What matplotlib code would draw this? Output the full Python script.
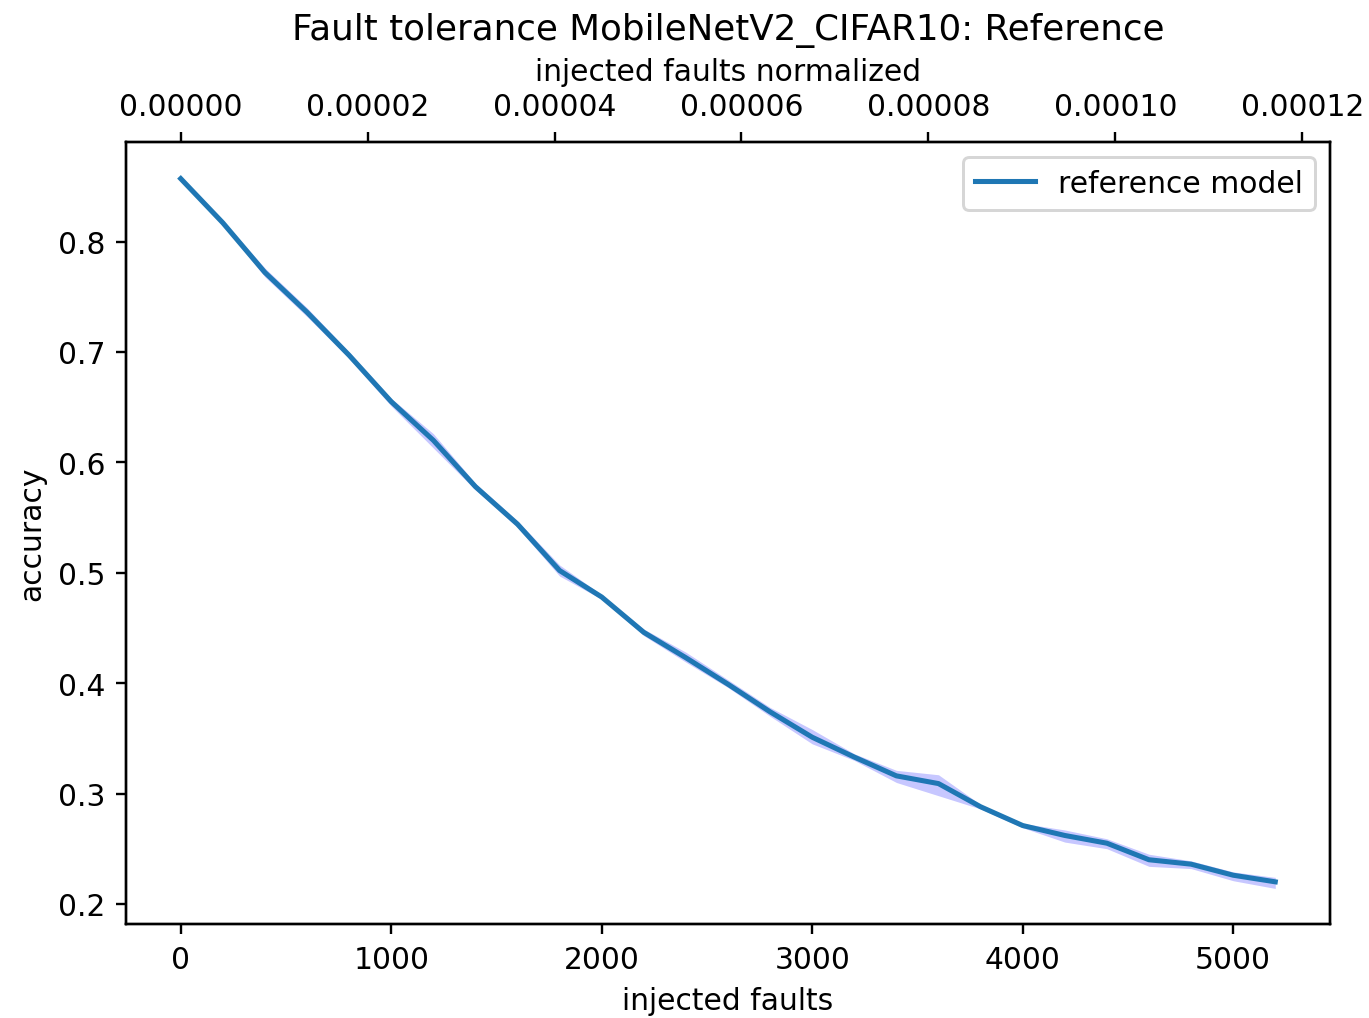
import numpy as np
import matplotlib
matplotlib.use("Agg")
import matplotlib.pyplot as plt

# injected faults per run and measured accuracy (mean with min/max band)
faults = [0, 200, 400, 600, 800, 1000, 1200, 1400, 1600, 1800, 2000, 2200, 2400,
          2600, 2800, 3000, 3200, 3400, 3600, 3800, 4000, 4200, 4400, 4600, 4800,
          5000, 5200]
acc_mean = [0.857, 0.817, 0.772, 0.736, 0.697, 0.655, 0.620, 0.578, 0.544, 0.502,
            0.478, 0.446, 0.423, 0.399, 0.374, 0.351, 0.333, 0.316, 0.309, 0.288,
            0.271, 0.262, 0.255, 0.240, 0.236, 0.226, 0.220]
acc_low = [0.856, 0.815, 0.768, 0.732, 0.694, 0.651, 0.613, 0.575, 0.541, 0.497,
           0.476, 0.443, 0.419, 0.396, 0.370, 0.345, 0.330, 0.310, 0.298, 0.286,
           0.269, 0.256, 0.250, 0.234, 0.232, 0.221, 0.214]
acc_high = [0.858, 0.819, 0.776, 0.740, 0.700, 0.658, 0.626, 0.581, 0.547, 0.507,
            0.480, 0.449, 0.428, 0.403, 0.378, 0.358, 0.336, 0.321, 0.317, 0.290,
            0.273, 0.267, 0.259, 0.245, 0.239, 0.229, 0.224]

total_bits = 44.4e6  # normalisation for the top axis

W, H, DPI = 1369, 1019, 214
fig = plt.figure(figsize=(W / DPI, H / DPI), dpi=DPI)
ax = fig.add_axes([126 / W, (H - 925) / H, (1330 - 126) / W, (925 - 143) / H])

ax.fill_between(faults, acc_low, acc_high, color="blue", alpha=0.22, linewidth=0)
ax.plot(faults, acc_mean, color="#1f77b4", linewidth=1.7, label="reference model")
ax.set_xlabel("injected faults")
ax.set_ylabel("accuracy")
ax.legend(loc="upper right")

ax2 = ax.twiny()
ax2.set_xlim(np.array(ax.get_xlim()) / total_bits)
ax2.set_xlabel("injected faults normalized")
ax2.set_title("Fault tolerance MobileNetV2_CIFAR10: Reference", fontsize=12)

fig.savefig("out.png", dpi=DPI)
